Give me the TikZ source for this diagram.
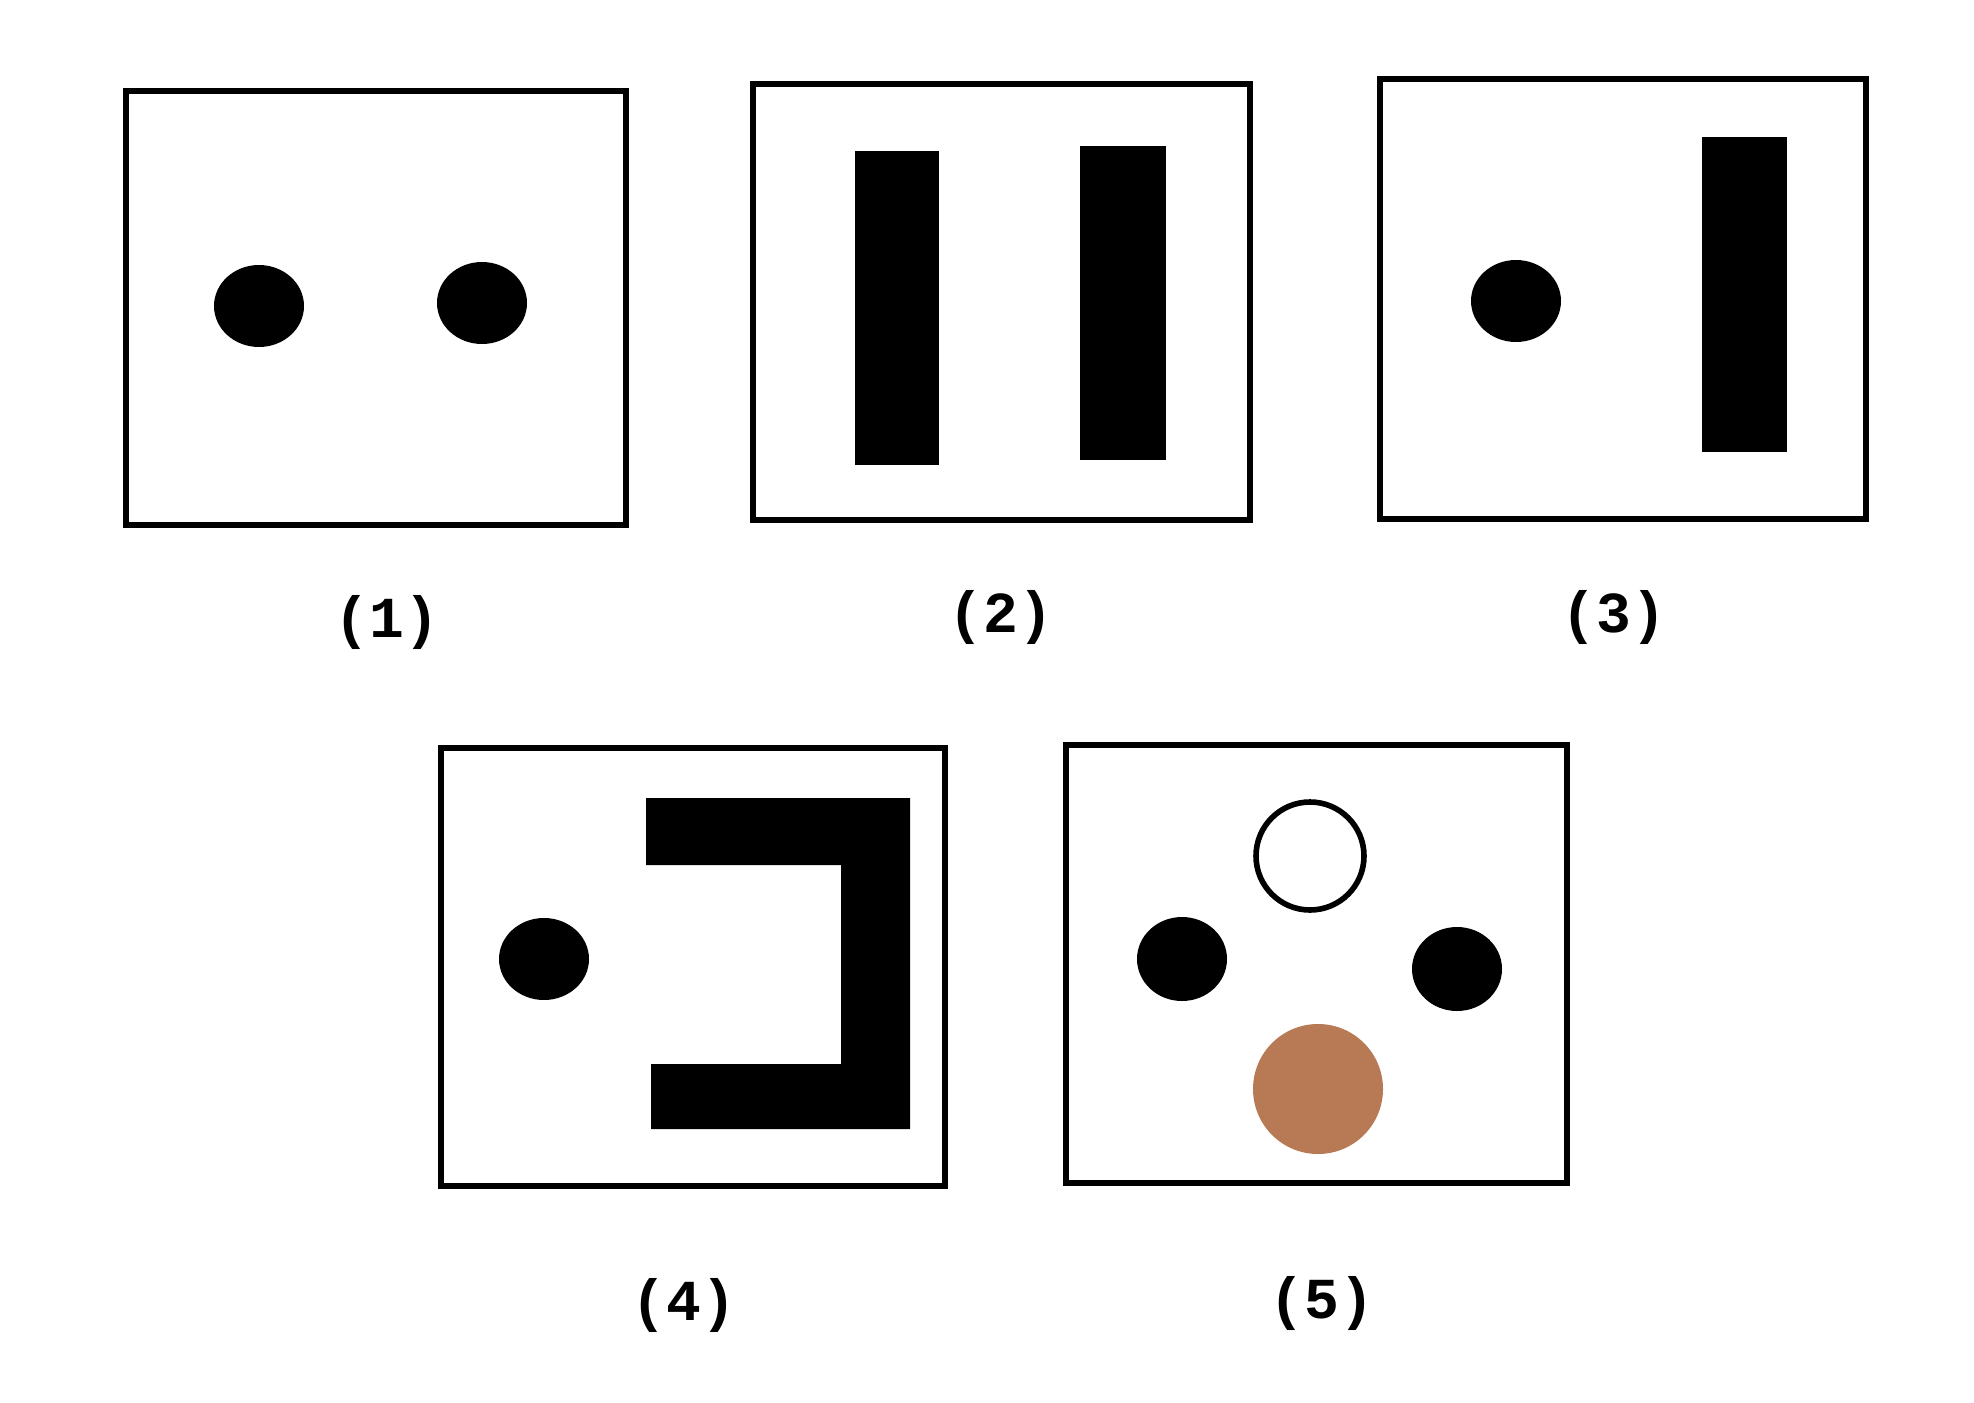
\documentclass[tikz,border=0pt]{standalone}
\usepackage{fontspec}
\setmonofont{Liberation Mono}
\definecolor{brownish}{HTML}{B87A55}
\begin{document}
\begin{tikzpicture}[x=0.5pt,y=-0.5pt,
  frame/.style={draw=black,line width=3pt,fill=white},
  blk/.style={fill=black},
  lbl/.style={font=\ttfamily\bfseries\fontsize{29}{32}\selectfont}]
\useasboundingbox (0,0) rectangle (1974,1402);
\fill[white] (0,0) rectangle (1974,1402);
% panel 1
\draw[frame] (126,91) rectangle (626,525);
\fill[blk] (259,306) ellipse [x radius=45, y radius=41];
\fill[blk] (482,303) ellipse [x radius=45, y radius=41];
\node[lbl] (l1) at (387,622) {(1)};
% panel 2
\draw[frame] (753,84) rectangle (1250,520);
\fill[blk] (855,151) rectangle (939,465);
\fill[blk] (1080,146) rectangle (1166,460);
\node[lbl] (l2) at (1001,617) {(2)};
% panel 3
\draw[frame] (1380,79) rectangle (1866,519);
\fill[blk] (1516,301) ellipse [x radius=45, y radius=41];
\fill[blk] (1702,137) rectangle (1787,452);
\node[lbl] (l3) at (1614,617) {(3)};
% panel 4
\draw[frame] (441,748) rectangle (945,1186);
\fill[blk] (544,959) ellipse [x radius=45, y radius=41];
\fill[blk] (646,798) -- (910,798) -- (910,1129) -- (651,1129) -- (651,1064) -- (841,1064) -- (841,865) -- (646,865) -- cycle;
\node[lbl] (l4) at (684,1305) {(4)};
% panel 5
\draw[frame] (1066,745) rectangle (1567,1183);
\draw[line width=2.8pt] (1310,856) circle (54);
\fill[blk] (1182,959) ellipse [x radius=45, y radius=42];
\fill[blk] (1457,969) ellipse [x radius=45, y radius=42];
\fill[brownish] (1318,1089) circle (65);
\node[lbl] (l5) at (1322,1303) {(5)};
\end{tikzpicture}
\end{document}
